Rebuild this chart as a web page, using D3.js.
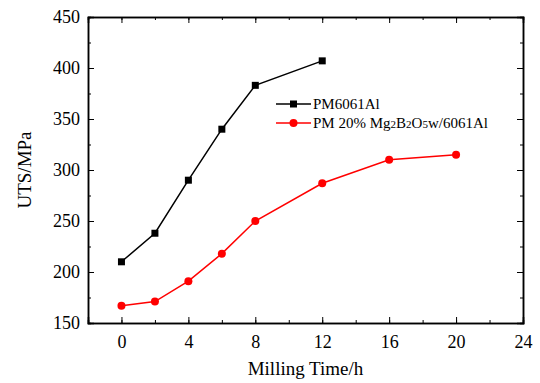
<!DOCTYPE html>
<html>
<head>
<meta charset="utf-8">
<script src="https://cdn.jsdelivr.net/npm/d3@7"></script>
<style>
  body { margin: 0; background: #fff; }
</style>
</head>
<body>
<div id="chart"></div>
<script>
const timesPure = [0, 2, 4, 6, 8, 12];
const utsPure = [210, 238, 290, 340, 383, 407];
const timesComp = [0, 2, 4, 6, 8, 12, 16, 20];
const utsComp = [167, 171, 191, 218, 250, 287, 310, 315];
const xTicks = [0, 4, 8, 12, 16, 20, 24];
const yTicks = [150, 200, 250, 300, 350, 400, 450];

const FONT = "'Liberation Serif', 'Times New Roman', serif";
const width = 540, height = 383;
const marginLeft = 88, marginTop = 17, marginRight = 17, marginBottom = 60;
const w = width - marginLeft - marginRight;
const h = height - marginTop - marginBottom;

const svg = d3.select("#chart").append("svg")
	.attr("width", width).attr("height", height)
	.attr("font-family", FONT);

const x = d3.scaleLinear().domain([-2, 24]).range([marginLeft, marginLeft + w]);
const y = d3.scaleLinear().domain([150, 450]).range([marginTop + h, marginTop]);

const xMinor = d3.range(-2, 24, 2);
const yMinor = d3.range(175, 450, 50);

// bottom axis
svg.append("g")
	.attr("transform", `translate(0,${marginTop + h})`)
	.call(d3.axisBottom(x).tickValues(xTicks).tickSize(-6).tickPadding(12));
svg.append("g")
	.attr("transform", `translate(0,${marginTop + h})`)
	.call(d3.axisBottom(x).tickValues(xMinor).tickSize(-3).tickFormat(""));
// top axis
svg.append("g")
	.attr("transform", `translate(0,${marginTop})`)
	.call(d3.axisTop(x).tickValues(xTicks).tickSize(-6).tickFormat(""));
svg.append("g")
	.attr("transform", `translate(0,${marginTop})`)
	.call(d3.axisTop(x).tickValues(xMinor).tickSize(-3).tickFormat(""));
// left axis
svg.append("g")
	.attr("transform", `translate(${marginLeft},0)`)
	.call(d3.axisLeft(y).tickValues(yTicks).tickSize(-6).tickPadding(8));
svg.append("g")
	.attr("transform", `translate(${marginLeft},0)`)
	.call(d3.axisLeft(y).tickValues(yMinor).tickSize(-3).tickFormat(""));
// right axis
svg.append("g")
	.attr("transform", `translate(${marginLeft + w},0)`)
	.call(d3.axisRight(y).tickValues(yTicks).tickSize(-6).tickFormat(""));
svg.append("g")
	.attr("transform", `translate(${marginLeft + w},0)`)
	.call(d3.axisRight(y).tickValues(yMinor).tickSize(-3).tickFormat(""));

svg.selectAll("g").attr("font-family", FONT);
svg.selectAll(".domain").attr("stroke", "#000").attr("stroke-width", 1.5);
svg.selectAll(".tick line").attr("stroke", "#000").attr("stroke-width", 1);
svg.selectAll(".tick text")
	.attr("fill", "#000")
	.attr("font-size", 18);

// axis titles
svg.append("text")
	.attr("x", marginLeft + w / 2).attr("y", 375)
	.attr("text-anchor", "middle")
	.attr("font-size", 19)
	.text("Milling Time/h");
svg.append("text")
	.attr("transform", `translate(31,${marginTop + h / 2}) rotate(-90)`)
	.attr("text-anchor", "middle")
	.attr("font-size", 19)
	.text("UTS/MPa");

const line = d3.line().x(d => x(d[0])).y(d => y(d[1]));
const pure = d3.zip(timesPure, utsPure);
const comp = d3.zip(timesComp, utsComp);

svg.append("path").datum(pure)
	.attr("d", line).attr("fill", "none").attr("stroke", "#000").attr("stroke-width", 1.5);
svg.selectAll(".sq").data(pure).join("rect")
	.attr("x", d => x(d[0]) - 3.5).attr("y", d => y(d[1]) - 3.5)
	.attr("width", 7).attr("height", 7).attr("fill", "#000");

svg.append("path").datum(comp)
	.attr("d", line).attr("fill", "none").attr("stroke", "#ff0000").attr("stroke-width", 1.5);
svg.selectAll(".ci").data(comp).join("circle")
	.attr("cx", d => x(d[0])).attr("cy", d => y(d[1]))
	.attr("r", 4).attr("fill", "#ff0000");

// legend
const lg = svg.append("g").attr("font-family", FONT);
lg.append("line").attr("x1", 276).attr("x2", 311).attr("y1", 104).attr("y2", 104)
	.attr("stroke", "#000").attr("stroke-width", 1.5);
lg.append("rect").attr("x", 290).attr("y", 100.5).attr("width", 7).attr("height", 7).attr("fill", "#000");
lg.append("text").attr("x", 313).attr("y", 109).attr("font-size", 15).text("PM6061Al");

lg.append("line").attr("x1", 276).attr("x2", 311).attr("y1", 123).attr("y2", 123)
	.attr("stroke", "#ff0000").attr("stroke-width", 1.5);
lg.append("circle").attr("cx", 293.5).attr("cy", 123).attr("r", 4).attr("fill", "#ff0000");
const t2 = lg.append("text").attr("x", 313).attr("y", 128).attr("font-size", 15);
t2.append("tspan").text("PM 20% Mg");
t2.append("tspan").attr("font-size", 11).text("2");
t2.append("tspan").text("B");
t2.append("tspan").attr("font-size", 11).text("2");
t2.append("tspan").text("O");
t2.append("tspan").attr("font-size", 11).text("5");
t2.append("tspan").text("w/6061Al");
</script>
</body>
</html>
